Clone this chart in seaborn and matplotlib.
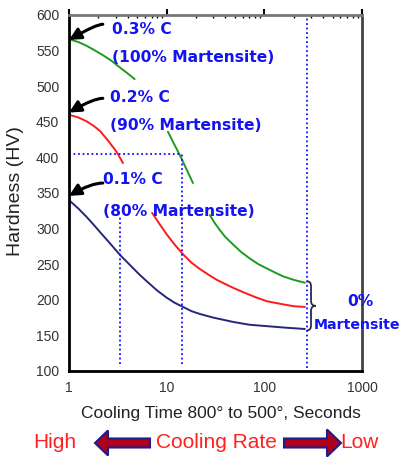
import numpy as np
import pandas as pd
import matplotlib
matplotlib.use("Agg")
import matplotlib.pyplot as plt
import seaborn as sns
from matplotlib.patches import FancyArrow, PathPatch
from matplotlib.path import Path
from matplotlib.ticker import FixedLocator, MultipleLocator, NullFormatter
import matplotlib.transforms as mtransforms

# ---------------- data ----------------
green_x = [1, 1.25, 1.5, 1.8, 2.2, 2.7, 3.2, 3.9, 4.7,
           10.3, 12, 14, 16, 18.6,
           27.7, 31, 35, 40, 47.6, 58, 71, 87, 106, 130, 155, 200, 260]
green_y = [566, 562, 557, 551, 544, 536, 528, 519, 510,
           436, 418, 400, 383, 364,
           319, 308, 298, 288, 278, 267, 258, 250, 244, 238, 233, 228, 224]
green_seg = [0] * 9 + [1] * 5 + [2] * 13

red_x = [1, 1.25, 1.5, 1.8, 2.08, 2.5, 3.1, 3.57,
         7.1, 8.5, 10, 12, 14.7, 18, 22, 27, 32.6, 40, 47.6, 60, 80, 106, 150, 200, 260]
red_y = [460, 456, 451, 444, 437, 424, 407, 392,
         322, 306, 292, 278, 264, 252, 243, 235, 228, 222, 217, 211, 204, 198, 194, 191, 190]
red_seg = [0] * 8 + [1] * 17

navy_x = [1, 1.25, 1.5, 1.8, 2.08, 2.6, 3.33, 4.2, 5.3, 6.5, 8, 10, 12, 14.7,
          18, 22, 30, 47.6, 70, 106, 160, 260]
navy_y = [340, 328, 317, 305, 295, 280, 263, 249, 235, 224, 213, 203, 196, 190,
          184, 180, 175, 169, 165, 163, 161, 159]
navy_seg = [0] * len(navy_x)

guide_h_y = 405
guide_h_x = [1, 14.5]
guide_v_x = [3.33, 14.5, 273]
guide_v_ymin = [110, 110, 104]
guide_v_ymax = [318, 405, 600]

y_ticks = [100, 150, 200, 250, 300, 350, 400, 450, 500, 550, 600]
x_ticks = [1, 10, 100, 1000]
x_tick_labels = ["1", "10", "100", "1000"]

arrow_heads = [565, 463, 346]
arrow_tails = [587, 483, 364]

# ---------------- build frame ----------------
frames = []
for name, xs, ys, seg in [("0.3% C", green_x, green_y, green_seg),
                          ("0.2% C", red_x, red_y, red_seg),
                          ("0.1% C", navy_x, navy_y, navy_seg)]:
    frames.append(pd.DataFrame({"time": xs, "hv": ys,
                                "series": name,
                                "unit": [f"{name}-{s}" for s in seg]}))
df = pd.concat(frames, ignore_index=True)

sns.set_style("white")
plt.rcParams["font.family"] = ["Liberation Sans", "DejaVu Sans"]

W, H = 401, 457
fig = plt.figure(figsize=(W / 100, H / 100), dpi=100)
ax = fig.add_axes([69 / W, 1 - 371 / H, 293 / W, 356 / H])

palette = {"0.3% C": "#1f9a1f", "0.2% C": "#ff1a1a", "0.1% C": "#26267a"}
sns.lineplot(data=df, x="time", y="hv", hue="series", units="unit",
             estimator=None, palette=palette, legend=False, lw=1.4, ax=ax)

ax.set_xscale("log")
ax.set_xlim(1, 1000)
ax.set_ylim(100, 600)

# guides
ax.hlines(guide_h_y, guide_h_x[0], guide_h_x[1], colors="#1010ff",
          linestyles=(0, (1, 1.5)), lw=1.3)
ax.vlines(guide_v_x, guide_v_ymin, guide_v_ymax, colors="#1010ff",
          linestyles=(0, (1, 1.5)), lw=1.3)

# ticks & spines
ax.yaxis.set_major_locator(FixedLocator(y_ticks))
ax.yaxis.set_minor_locator(MultipleLocator(10))
ax.xaxis.set_major_locator(FixedLocator(x_ticks))
ax.set_xticklabels(x_tick_labels)
ax.xaxis.set_minor_formatter(NullFormatter())
ax.tick_params(axis="both", which="major", direction="out", length=4, width=1.5,
               labelsize=10, labelcolor="#333333", color="black", pad=3)
ax.tick_params(axis="both", which="minor", direction="in", length=2, width=1, color="black")
ax.tick_params(axis="x", which="both", top=True)
for side, col in [("left", "black"), ("bottom", "black"), ("top", "#777777"), ("right", "#444444")]:
    ax.spines[side].set_visible(True)
    ax.spines[side].set_color(col)
    ax.spines[side].set_linewidth(2)

ax.set_xlabel("Cooling Time 800\u00b0 to 500\u00b0, Seconds", fontsize=12.5, color="#222222")
ax.xaxis.set_label_coords(0.519, -0.097)
ax.set_ylabel("Hardness (HV)", fontsize=14, color="#222222")
ax.yaxis.set_label_coords(-0.155, 0.505)

def fy(py):
    return 1 - py / H

def fx(px):
    return px / W

blue = "#1414f0"
bold = dict(family=["DejaVu Sans"], fontweight="bold", color=blue, fontsize=11.2)
fig.text(fx(112), fy(30), "0.3% C", va="center", ha="left", **bold)
fig.text(fx(112), fy(58), "(100% Martensite)", va="center", ha="left", **bold)
fig.text(fx(110), fy(98), "0.2% C", va="center", ha="left", **bold)
fig.text(fx(110), fy(126), "(90% Martensite)", va="center", ha="left", **bold)
fig.text(fx(103), fy(180), "0.1% C", va="center", ha="left", **bold)
fig.text(fx(103), fy(211), "(80% Martensite)", va="center", ha="left", **bold)
fig.text(fx(360), fy(302), "0%", va="center", ha="center", **bold)
bold_small = dict(bold, fontsize=10.2)
fig.text(fx(314), fy(325), "Martensite", va="center", ha="left", **bold_small)

# black pointer arrows
tails_x = [2.22, 2.22, 2.22]
for head, tail, tx in zip(arrow_heads, arrow_tails, tails_x):
    ax.annotate("", xy=(1.0, head), xytext=(tx, tail),
                arrowprops=dict(arrowstyle="-|>,head_length=0.7,head_width=0.35",
                                color="black", lw=2.2,
                                connectionstyle="angle3,angleA=0,angleB=30",
                                shrinkA=0, shrinkB=0),
                annotation_clip=False)

# brace for 0% martensite
trans = mtransforms.blended_transform_factory(ax.transAxes, ax.transData)
x0, xm, xt = 0.812, 0.826, 0.842
ytop, ybot = 226, 157
ymid = (ytop + ybot) / 2
verts = [(x0, ytop), (xm, ytop), (xm, ytop - 7),
         (xm, ymid + 7), (xm, ymid), (xt, ymid),
         (xm, ymid), (xm, ymid - 7),
         (xm, ybot + 7), (xm, ybot), (x0, ybot)]
codes = [Path.MOVETO, Path.CURVE3, Path.CURVE3,
         Path.LINETO, Path.CURVE3, Path.CURVE3,
         Path.CURVE3, Path.CURVE3,
         Path.LINETO, Path.CURVE3, Path.CURVE3]
ax.add_patch(PathPatch(Path(verts, codes), transform=trans, fill=False,
                       edgecolor="#2a2a55", lw=1.3, clip_on=False))

# bottom cooling-rate row
red_txt = dict(color="#ff2020", fontsize=15, va="center", family=["Liberation Sans", "DejaVu Sans"])
fig.text(fx(55), fy(443), "High", ha="center", **red_txt)
fig.text(fx(216), fy(443), "Cooling Rate", ha="center", **red_txt)
fig.text(fx(359), fy(443), "Low", ha="center", **red_txt)

arrow_kw = dict(transform=fig.transFigure, facecolor="#b0001a", edgecolor="#1c1c90",
                lw=1.5, length_includes_head=True)
fig.patches.append(FancyArrow(fx(150), fy(443), fx(95) - fx(150), 0,
                              width=9 / H, head_width=25 / H, head_length=13 / W, **arrow_kw))
fig.patches.append(FancyArrow(fx(284), fy(443), fx(341) - fx(284), 0,
                              width=9 / H, head_width=27 / H, head_length=14 / W, **arrow_kw))

fig.savefig("out.png", dpi=100)
